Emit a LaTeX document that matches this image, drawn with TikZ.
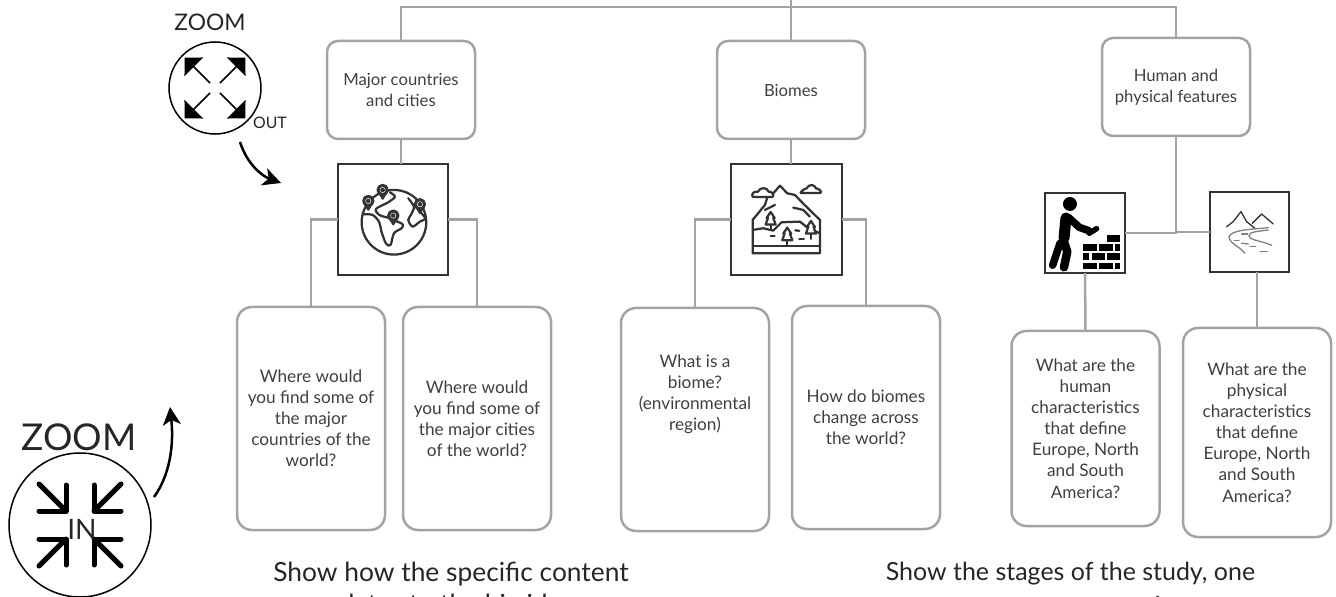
\documentclass[tikz,border=0pt]{standalone}
\usepackage{fontspec}
\setmainfont{Lato}
\usetikzlibrary{arrows, arrows.meta, shapes.geometric}

\definecolor{linegray}{HTML}{A3A3A3}
\definecolor{boxtext}{HTML}{3F3F3F}
\definecolor{icondark}{HTML}{333333}

\tikzset{
	topbox/.style={draw=linegray,line width=0.5mm,rounded corners=2.2mm,outer sep=0pt,
		minimum width=29.6mm,minimum height=19.6mm,align=center,text=boxtext,font=\fontsize{9.5}{12}\selectfont},
	askbox/.style={draw=linegray,line width=0.5mm,rounded corners=3mm,outer sep=0pt,
		minimum width=29.6mm,align=center,text=boxtext,font=\fontsize{9.8}{12}\selectfont},
	picbox/.style={draw=icondark,line width=0.42mm,outer sep=0pt},
	link/.style={draw=linegray,line width=0.5mm},
	iconline/.style={draw=icondark,line width=0.45mm,line cap=round,line join=round},
	riverline/.style={draw=gray,line width=0.26mm,line cap=round,line join=round},
	headline/.style={text=black!85,font=\fontsize{15}{15}\selectfont},
	outarrow/.style={line width=0.3mm,-{Triangle[length=2.6mm,width=5.2mm]}},
	inarrow/.style={line width=1mm,line cap=round,line join=round},
	swoop/.style={line width=0.5mm,-{Stealth[length=3.6mm,width=3.6mm,inset=1mm]}},
	workerlimb/.style={line cap=round,line join=round}
}

\begin{document}
\begin{tikzpicture}[x=0.2mm,y=-0.2mm]
	\clip (0,0) rectangle (1336,597);

	%top row
	\node[topbox] (majorbox) at (401,90) {Major countries\\and cities};
	\node[topbox] (biomesbox) at (791,90) {Biomes};
	\node[topbox] (humanbox) at (1176,87) {Human and\\physical features};
	%
	\coordinate (railstem) at (791,0);
	\coordinate (railmid) at (791,7);

	%picture boxes
	\node[picbox,minimum width=22mm,minimum height=22.2mm] (globebox) at (393,219.5) {};
	\node[picbox,minimum width=22.2mm,minimum height=22.2mm] (mountainbox) at (786.5,219.5) {};
	\node[picbox,minimum width=16mm,minimum height=16mm] (workerbox) at (1085,233) {};
	\node[picbox,minimum width=15.8mm,minimum height=16mm] (riverbox) at (1249.5,232) {};

	%question boxes
	\node[askbox,minimum height=44.6mm] (askcountries) at (311,418.5)
		{Where would\\you find some of\\the major\\countries of the\\world?};
	\node[askbox,minimum height=44.6mm] (askcities) at (477,418.5)
		{Where would\\you find some of\\the major cities\\of the world?};
	\node[askbox,minimum height=44.6mm] (askbiome) at (695,419.5) {};
	\node[align=center,text=boxtext,font=\fontsize{9.8}{12}\selectfont] (askbiometext) at (695,394)
		{What is a\\biome?\\(environmental\\region)};
	\node[askbox,minimum height=44.6mm] (askchange) at (866,417.5)
		{How do biomes\\change across\\the world?};
	\node[askbox,minimum height=39mm] (askhuman) at (1085.5,428.5)
		{What are the\\human\\characteristics\\that define\\Europe, North\\and South\\America?};
	\node[askbox,minimum height=41.8mm] (askphysical) at (1257,432.5)
		{What are the\\physical\\characteristics\\that define\\Europe, North\\and South\\America?};

	%connectors
	\draw[link] (railstem) -- (railmid);
	\draw[link] (majorbox.north) |- (railmid) -| (humanbox.north);
	\draw[link] (railmid) -- (biomesbox.north);
	\draw[link] (majorbox.south) -- (majorbox.south |- globebox.north);
	\draw[link] (biomesbox.south) -- (biomesbox.south |- mountainbox.north);
	\draw[link] (globebox.west) -| (askcountries.north);
	\draw[link] (globebox.east) -| (askcities.north);
	\draw[link] (mountainbox.west) -| (askbiome.north);
	\draw[link] (mountainbox.east) -| (askchange.north);
	\draw[link] (humanbox.south) |- (workerbox.east);
	\draw[link] (humanbox.south) |- (riverbox.west);
	\draw[link] (workerbox.south) -- (askhuman.north);
	\draw[link] (riverbox.south -| askphysical.north) -- (askphysical.north);

	%globe
	\begin{scope}[shift={(340,165)},scale=0.333]
		\draw[iconline] (162,172) circle (97);
		\draw[iconline] plot[smooth] coordinates {(68,148) (98,150) (118,172) (124,198) (138,236) (152,240) (162,205) (185,190) (188,178) (168,168) (150,160) (118,150) (108,132) (145,112) (165,95) (150,82)};
		\draw[iconline] plot[smooth] coordinates {(205,100) (222,125) (214,148) (205,165) (218,185) (240,170) (256,160) (238,135) (250,120)};
		\foreach \pinx/\piny in {128/75,85/108,160/152,240/118}
		{
			\fill[white] (\pinx,\piny) circle (17);
			\draw[iconline,line width=0.6mm] (\pinx,\piny) circle (14);
			\draw[iconline] (\pinx,\piny) circle (4);
			\draw[iconline] (\pinx-8,\piny+12) -- (\pinx,\piny+26) -- (\pinx+8,\piny+12);
		}
	\end{scope}

	%mountain
	\begin{scope}[shift={(730,165)},scale=0.333]
		\draw[iconline] (68,265) -- (68,165) -- (105,120) -- (112,97);
		\draw[iconline] (130,85) -- (150,62) -- (172,85) -- (195,90) -- (222,118) -- (270,165) -- (270,265) -- (68,265);
		\draw[iconline] (68,243) -- (270,243);
		\draw[iconline,fill=white] (68,96) .. controls (62,84) and (76,78) .. (84,80) .. controls (90,66) and (112,66) .. (116,80) .. controls (128,78) and (136,96) .. (126,96) -- cycle;
		\draw[iconline,fill=white] (212,84) .. controls (216,74) and (226,72) .. (230,70) .. controls (238,56) and (254,58) .. (258,70) .. controls (268,70) and (280,84) .. (270,84) -- cycle;
		\draw[iconline] (68,195) -- (100,190) -- (130,197) -- (155,172) -- (210,170) -- (235,190) -- (270,205);
		\draw[iconline] (105,135) -- (135,120);
		\draw[iconline] (190,128) -- (220,135) -- (240,155);
		\foreach \treex/\treey in {122/165,172/212,243/192}
		{
			\draw[iconline,fill=white] (\treex,\treey-24) -- (\treex+12,\treey-6) -- (\treex+8,\treey-6) -- (\treex+15,\treey+14) -- (\treex-15,\treey+14) -- (\treex-8,\treey-6) -- (\treex-12,\treey-6) -- cycle;
			\draw[iconline] (\treex,\treey+14) -- (\treex,\treey+30);
		}
		\draw[iconline] (122,214) -- (134,214);
		\draw[iconline] (196,196) -- (208,198);
		\draw[iconline] (208,222) -- (222,222);
	\end{scope}

	%worker
	\begin{scope}[shift={(1040,190)},scale=0.333]
		\fill (90,42) circle (21);
		\draw[workerlimb,line width=2.2mm] (78,84) -- (72,145);
		\draw[workerlimb,line width=1.5mm] (85,82) -- (118,112) -- (146,122);
		\draw[workerlimb,line width=1.7mm] (70,150) -- (82,185) -- (72,232);
		\draw[workerlimb,line width=1.5mm] (60,160) -- (50,190) -- (38,226);
		\draw[line width=1.1mm,line cap=round] (148,130) -- (170,116);
		\foreach \brickx/\bricky/\brickw in {200/135/40,130/163/40,178/163/40,225/163/15,130/190/18,155/190/40,202/190/38,130/218/40,178/218/40,225/218/15}
			\fill (\brickx,\bricky) rectangle ++(\brickw,20);
	\end{scope}

	%river
	\begin{scope}[shift={(1205,190)},scale=0.333]
		\draw[riverline,draw=icondark] (65,110) -- (85,95) -- (108,65) -- (125,95) -- (150,115);
		\draw[riverline,draw=icondark] (142,100) -- (170,72) -- (205,102);
		\draw[riverline] (190,113) .. controls (150,118) and (80,118) .. (72,140) .. controls (72,160) and (105,170) .. (120,190);
		\draw[riverline] (190,120) .. controls (165,124) and (130,125) .. (132,138) .. controls (136,152) and (170,152) .. (200,166);
		\draw[riverline] (88,152) -- (102,152);
		\draw[riverline] (110,160) -- (130,162);
		\draw[riverline] (135,170) -- (152,170);
		\draw[riverline] (165,184) -- (188,184);
		\draw[riverline] (110,132) -- (128,132);
	\end{scope}

	%zoom out
	\node[headline,font=\fontsize{13}{13}\selectfont] (zoomouttitle) at (210,22) {ZOOM};
	\node[circle,draw=black,line width=0.3mm,minimum size=18.4mm,inner sep=0pt] (zoomoutring) at (215,88) {};
	\foreach \ang in {45,135,225,315}
		\draw[outarrow] ([shift={(\ang:7)}]zoomoutring.center) -- ([shift={(\ang:43)}]zoomoutring.center);
	\node[font=\fontsize{9}{9}\selectfont,text=black!85] (zoomoutlabel) at (270,123) {OUT};
	\coordinate (outswoopstart) at (240,142);
	\coordinate (outswoopend) at (281,183);
	\draw[swoop] (outswoopstart) .. controls (247,164) and (262,176) .. (outswoopend);

	%zoom in
	\node[headline,font=\fontsize{21}{21}\selectfont] (zoomintitle) at (79,437) {ZOOM};
	\node[ellipse,draw=black,line width=0.3mm,minimum width=28.4mm,minimum height=28.8mm,inner sep=0pt] (zoominring) at (80,525) {};
	\foreach \sx/\sy in {-1/-1,1/-1,-1/1,1/1}
	{
		\draw[inarrow] ([shift={(\sx*14,\sy*40)}]zoominring.center) -- ([shift={(\sx*14,\sy*14)}]zoominring.center) -- ([shift={(\sx*41,\sy*14)}]zoominring.center);
		\draw[inarrow] ([shift={(\sx*41,\sy*41)}]zoominring.center) -- ([shift={(\sx*14,\sy*14)}]zoominring.center);
	}
	\node[font=\fontsize{16}{16}\selectfont,text=black!85] (zoominlabel) at (82,529) {IN};
	\coordinate (inswoopstart) at (154,497);
	\coordinate (inswoopend) at (170,407);
	\draw[swoop] (inswoopstart) .. controls (170,475) and (174,445) .. (inswoopend);

	%bottom captions
	\node[headline] (captionleft) at (451,574) {Show how the specific content};
	\node[headline] (captionleftcut) at (450,606) {relates to the big idea};
	\node[headline,font=\fontsize{14.2}{14.2}\selectfont] (captionright) at (1070.5,574) {Show the stages of the study, one};
	\node[headline] (captionrightcut) at (1146,606) {at a time};
\end{tikzpicture}
\end{document}
